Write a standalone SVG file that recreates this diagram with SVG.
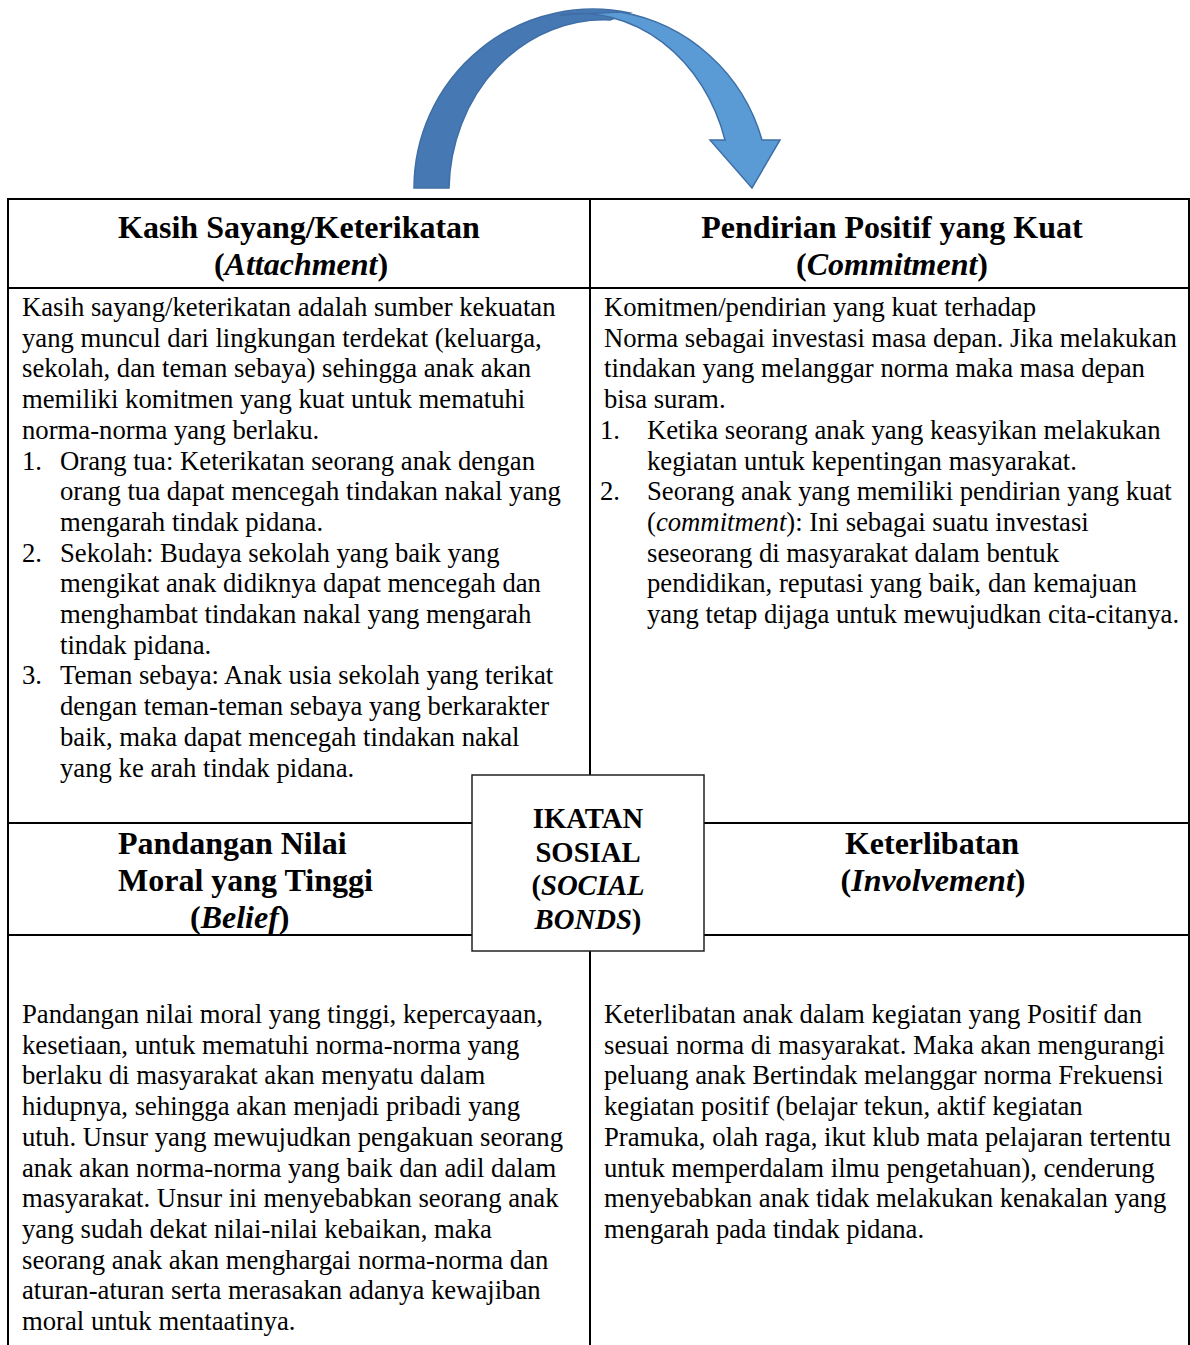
<svg xmlns="http://www.w3.org/2000/svg" width="1190" height="1345" viewBox="0 0 1190 1345">
<style>
  text { font-family: "Liberation Serif", "Times New Roman", serif; fill: #000; }
  .body { font-size: 26.7px; }
  .head { font-size: 32px; font-weight: bold; }
  .hc { text-anchor: middle; }
  .ctr { font-size: 28.7px; font-weight: bold; text-anchor: middle; }
  .grid { stroke: #000; stroke-width: 2; fill: none; }
  .box { fill: #fff; stroke: #222; stroke-width: 1.5; }
  .arrowBack { fill: #4678B4; stroke: #3F6FA6; stroke-width: 1.5; }
  .arrowFront { fill: #5B9BD5; stroke: #3F6FA6; stroke-width: 1.5; }
</style>
<rect width="1190" height="1345" fill="#fff"/>

<g id="connectors">
  <path class="arrowBack" d="M414,188 A179,179 0 0 1 630,13 L610,20 A155,172 0 0 0 449,188 Z"/>
  <path class="arrowFront" d="M560,15 L620,12 A178,180 0 0 1 762,140 L780,140 L752,188 L710,140 L725,140 A152,177 0 0 0 560,15 Z"/>
</g>

<g id="grid" class="grid">
  <line x1="7" y1="199" x2="1190" y2="199"/>
  <line x1="7" y1="288" x2="1190" y2="288"/>
  <line x1="7" y1="823" x2="472" y2="823"/>
  <line x1="704" y1="823" x2="1190" y2="823"/>
  <line x1="7" y1="935" x2="472" y2="935"/>
  <line x1="704" y1="935" x2="1190" y2="935"/>
  <line x1="8" y1="198" x2="8" y2="1345"/>
  <line x1="590" y1="198" x2="590" y2="775"/>
  <line x1="590" y1="951" x2="590" y2="1345"/>
  <line x1="1189" y1="198" x2="1189" y2="1345"/>
</g>

<g id="node-attachment">
  <text class="head hc"><tspan x="299" y="238">Kasih Sayang/Keterikatan</tspan><tspan x="301" y="275">(<tspan font-style="italic">Attachment</tspan>)</tspan></text>
  <text class="body">
    <tspan x="22" y="316">Kasih sayang/keterikatan adalah sumber kekuatan</tspan>
    <tspan x="22" y="346.7">yang muncul dari lingkungan terdekat (keluarga,</tspan>
    <tspan x="22" y="377.4">sekolah, dan teman sebaya) sehingga anak akan</tspan>
    <tspan x="22" y="408.1">memiliki komitmen yang kuat untuk mematuhi</tspan>
    <tspan x="22" y="438.8">norma-norma yang berlaku.</tspan>
    <tspan x="22" y="469.5">1.</tspan><tspan x="60" y="469.5">Orang tua: Keterikatan seorang anak dengan</tspan>
    <tspan x="60" y="500.2">orang tua dapat mencegah tindakan nakal yang</tspan>
    <tspan x="60" y="530.9">mengarah tindak pidana.</tspan>
    <tspan x="22" y="561.6">2.</tspan><tspan x="60" y="561.6">Sekolah: Budaya sekolah yang baik yang</tspan>
    <tspan x="60" y="592.3">mengikat anak didiknya dapat mencegah dan</tspan>
    <tspan x="60" y="623">menghambat tindakan nakal yang mengarah</tspan>
    <tspan x="60" y="653.7">tindak pidana.</tspan>
    <tspan x="22" y="684.4">3.</tspan><tspan x="60" y="684.4">Teman sebaya: Anak usia sekolah yang terikat</tspan>
    <tspan x="60" y="715.1">dengan teman-teman sebaya yang berkarakter</tspan>
    <tspan x="60" y="745.8">baik, maka dapat mencegah tindakan nakal</tspan>
    <tspan x="60" y="776.5">yang ke arah tindak pidana.</tspan>
  </text>
</g>

<g id="node-commitment">
  <text class="head hc"><tspan x="892" y="238">Pendirian Positif yang Kuat</tspan><tspan x="892" y="275">(<tspan font-style="italic">Commitment</tspan>)</tspan></text>
  <text class="body">
    <tspan x="604" y="316">Komitmen/pendirian yang kuat terhadap</tspan>
    <tspan x="604" y="346.7">Norma sebagai investasi masa depan. Jika melakukan</tspan>
    <tspan x="604" y="377.4">tindakan yang melanggar norma maka masa depan</tspan>
    <tspan x="604" y="408.1">bisa suram.</tspan>
    <tspan x="600" y="438.8">1.</tspan><tspan x="647" y="438.8">Ketika seorang anak yang keasyikan melakukan</tspan>
    <tspan x="647" y="469.5">kegiatan untuk kepentingan masyarakat.</tspan>
    <tspan x="600" y="500.2">2.</tspan><tspan x="647" y="500.2">Seorang anak yang memiliki pendirian yang kuat</tspan>
    <tspan x="647" y="530.9">(<tspan font-style="italic">commitment</tspan>): Ini sebagai suatu investasi</tspan>
    <tspan x="647" y="561.6">seseorang di masyarakat dalam bentuk</tspan>
    <tspan x="647" y="592.3">pendidikan, reputasi yang baik, dan kemajuan</tspan>
    <tspan x="647" y="623">yang tetap dijaga untuk mewujudkan cita-citanya.</tspan>
  </text>
</g>

<g id="node-belief">
  <text class="head"><tspan x="118" y="854">Pandangan Nilai</tspan><tspan x="118" y="891">Moral yang Tinggi</tspan><tspan x="190" y="928">(<tspan font-style="italic">Belief</tspan>)</tspan></text>
  <text class="body">
    <tspan x="22" y="1023">Pandangan nilai moral yang tinggi, kepercayaan,</tspan>
    <tspan x="22" y="1053.7">kesetiaan, untuk mematuhi norma-norma yang</tspan>
    <tspan x="22" y="1084.4">berlaku di masyarakat akan menyatu dalam</tspan>
    <tspan x="22" y="1115.1">hidupnya, sehingga akan menjadi pribadi yang</tspan>
    <tspan x="22" y="1145.8">utuh. Unsur yang mewujudkan pengakuan seorang</tspan>
    <tspan x="22" y="1176.5">anak akan norma-norma yang baik dan adil dalam</tspan>
    <tspan x="22" y="1207.2">masyarakat. Unsur ini menyebabkan seorang anak</tspan>
    <tspan x="22" y="1237.9">yang sudah dekat nilai-nilai kebaikan, maka</tspan>
    <tspan x="22" y="1268.6">seorang anak akan menghargai norma-norma dan</tspan>
    <tspan x="22" y="1299.3">aturan-aturan serta merasakan adanya kewajiban</tspan>
    <tspan x="22" y="1330">moral untuk mentaatinya.</tspan>
  </text>
</g>

<g id="node-involvement">
  <text class="head hc"><tspan x="932" y="854">Keterlibatan</tspan><tspan x="933" y="891">(<tspan font-style="italic">Involvement</tspan>)</tspan></text>
  <text class="body">
    <tspan x="604" y="1023">Keterlibatan anak dalam kegiatan yang Positif dan</tspan>
    <tspan x="604" y="1053.7">sesuai norma di masyarakat. Maka akan mengurangi</tspan>
    <tspan x="604" y="1084.4">peluang anak Bertindak melanggar norma Frekuensi</tspan>
    <tspan x="604" y="1115.1">kegiatan positif (belajar tekun, aktif kegiatan</tspan>
    <tspan x="604" y="1145.8">Pramuka, olah raga, ikut klub mata pelajaran tertentu</tspan>
    <tspan x="604" y="1176.5">untuk memperdalam ilmu pengetahuan), cenderung</tspan>
    <tspan x="604" y="1207.2">menyebabkan anak tidak melakukan kenakalan yang</tspan>
    <tspan x="604" y="1237.9">mengarah pada tindak pidana.</tspan>
  </text>
</g>

<g id="node-social-bonds">
  <rect class="box" x="472" y="775" width="232" height="176"/>
  <text class="ctr"><tspan x="588" y="828">IKATAN</tspan><tspan x="588" y="861.5">SOSIAL</tspan><tspan x="588" y="895">(<tspan font-style="italic">SOCIAL</tspan></tspan><tspan x="588" y="928.5"><tspan font-style="italic">BONDS</tspan>)</tspan></text>
</g>
</svg>
